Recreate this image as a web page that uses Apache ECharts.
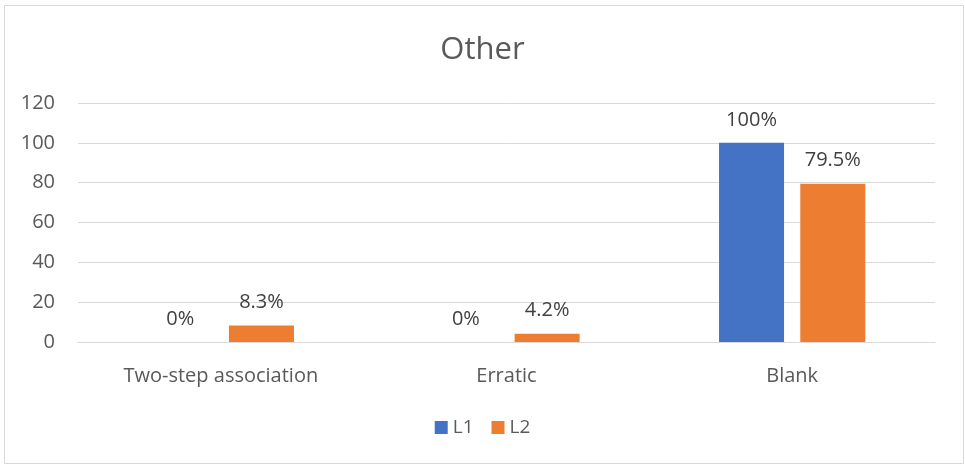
<!DOCTYPE html>
<html>
<head>
<meta charset="utf-8">
<script src="https://cdn.jsdelivr.net/npm/echarts@6/dist/echarts.min.js"></script>
<style>
html,body{margin:0;padding:0;background:#fff;}
#chart{width:965px;height:464px;}
</style>
</head>
<body>
<div id="chart"></div>
<script>
const categories = ['Two-step association', 'Erratic', 'Blank'];
const seriesNames = ['L1', 'L2'];
const L1 = [0, 0, 100];
const L2 = [8.3, 4.2, 79.5];
const yTicks = [0, 20, 40, 60, 80, 100, 120];

const fontFam = '"Open Sans", "Noto Sans", sans-serif';
const chart = echarts.init(document.getElementById('chart'), null, {renderer: 'canvas'});
const labelStyle = {
  show: true, position: 'top', distance: 13,
  color: '#404040', fontSize: 20, fontFamily: fontFam,
  formatter: p => p.value + '%'
};
chart.setOption({
  animation: false,
  backgroundColor: '#fff',
  graphic: [{
    type: 'rect', left: 2, top: 3, z: -10,
    shape: {width: 959, height: 458},
    style: {fill: 'none', stroke: '#d9d9d9', lineWidth: 1}
  }],
  title: {
    text: 'Other', left: 'center', top: 30,
    textStyle: {color: '#595959', fontSize: 31, fontWeight: 'normal', fontFamily: fontFam}
  },
  legend: {
    data: seriesNames, bottom: 22, left: 'center',
    itemWidth: 13, itemHeight: 13, itemGap: 18, icon: 'rect',
    textStyle: {color: '#595959', fontSize: 19, fontFamily: fontFam}
  },
  grid: {left: 78, right: 30, top: 103, bottom: 122, containLabel: false},
  xAxis: {
    type: 'category', data: categories,
    axisLine: {lineStyle: {color: '#d9d9d9'}},
    axisTick: {show: false},
    axisLabel: {color: '#595959', fontSize: 20, fontFamily: fontFam, margin: 24}
  },
  yAxis: {
    type: 'value', min: yTicks[0], max: yTicks[yTicks.length - 1], interval: 20,
    axisLine: {show: false}, axisTick: {show: false},
    splitLine: {lineStyle: {color: '#d9d9d9', width: 1}},
    axisLabel: {color: '#595959', fontSize: 20, fontFamily: fontFam, margin: 23}
  },
  series: [
    {name: seriesNames[0], type: 'bar', data: L1, barWidth: 65, barGap: '25%',
     itemStyle: {color: '#4472c4'}, label: labelStyle},
    {name: seriesNames[1], type: 'bar', data: L2, barWidth: 65,
     itemStyle: {color: '#ed7d31'}, label: labelStyle}
  ]
});
</script>
</body>
</html>
